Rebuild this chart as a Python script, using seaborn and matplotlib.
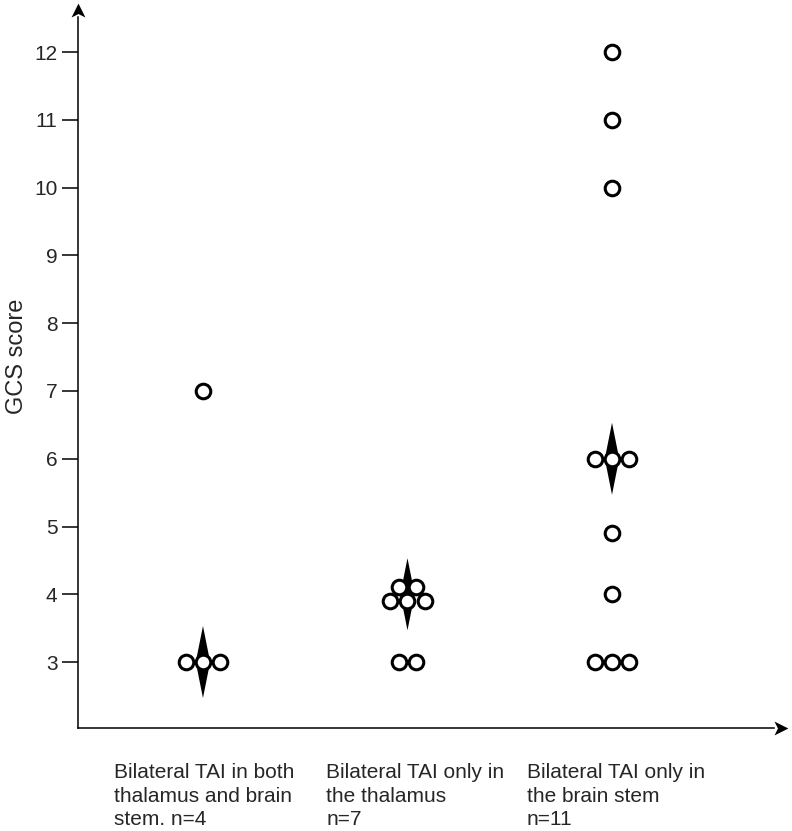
import numpy as np
import pandas as pd
import matplotlib.pyplot as plt
import seaborn as sns
from matplotlib.path import Path

# GCS scores per group
groups = ['Bilateral TAI in both\nthalamus and brain\nstem. n=4',
          'Bilateral TAI only in\nthe thalamus\nn=7',
          'Bilateral TAI only in\nthe brain stem\nn=11']
gcs_both = [3, 3, 3, 7]
gcs_thalamus = [3, 3, 3.9, 3.9, 3.9, 4.1, 4.1]
gcs_brainstem = [3, 3, 3, 4, 4.9, 6, 6, 6, 10, 11, 12]
medians = [3, 4, 6]
yticks = list(range(3, 13))

# layout
step = 0.085                          # gap between circles with the same value
label_shift = [-0.435, -0.396, -0.416]  # left edge of the group captions

rows = []
for i, vals in enumerate([gcs_both, gcs_thalamus, gcs_brainstem]):
    counts = pd.Series(vals).value_counts(sort=False)
    for v, n in counts.items():
        for k in range(n):
            rows.append({'x': i + (k - (n - 1) / 2) * step, 'gcs': v})
df = pd.DataFrame(rows)
med = pd.DataFrame({'x': range(len(medians)), 'gcs': medians})

sns.set_style('white')
plt.rcParams['font.family'] = ['Liberation Sans', 'DejaVu Sans']

fig = plt.figure(figsize=(7.92, 8.31), dpi=100)
ax = fig.add_axes([78 / 792, 103 / 831, 696 / 792, 711 / 831])

diamond = Path([(0, 1), (0.2, 0), (0, -1), (-0.2, 0), (0, 1)],
               [Path.MOVETO, Path.LINETO, Path.LINETO, Path.LINETO, Path.CLOSEPOLY])
sns.scatterplot(data=med, x='x', y='gcs', marker=diamond, s=2690,
                color='black', edgecolor='none', linewidth=0, zorder=2, ax=ax)
sns.scatterplot(data=df, x='x', y='gcs', s=110, color='white',
                edgecolor='black', linewidth=2.2, zorder=3, ax=ax, clip_on=False)

ax.set(xlim=(-0.611, 2.792), ylim=(2.026, 12.52), xlabel='', ylabel='')
ax.set_xticks([])
ax.set_yticks(yticks)
ax.tick_params(axis='y', length=11.7, width=1.1, pad=3, labelsize=15,
               direction='out', left=True, color='black')
for s in ['top', 'right']:
    ax.spines[s].set_visible(False)
for s in ['left', 'bottom']:
    ax.spines[s].set_linewidth(1.1)
    ax.spines[s].set_color('black')

ax.set_ylabel('GCS score', fontsize=17)
ax.yaxis.set_label_coords(-0.072, 0.523)

# arrow heads
arr_x = Path([(0, -0.5), (1, 0), (0, 0.5), (0.25, 0), (0, -0.5)],
             [Path.MOVETO, Path.LINETO, Path.LINETO, Path.LINETO, Path.CLOSEPOLY])
arr_y = Path([(-0.5, 0), (0, 1), (0.5, 0), (0, 0.25), (-0.5, 0)],
             [Path.MOVETO, Path.LINETO, Path.LINETO, Path.LINETO, Path.CLOSEPOLY])
ax.plot([1], [0], marker=arr_x, ms=20, color='black', transform=ax.transAxes,
        clip_on=False, mew=0)
ax.plot([0], [1], marker=arr_y, ms=20, color='black', transform=ax.transAxes,
        clip_on=False, mew=0)

# group captions
tr = ax.get_xaxis_transform()
for i, (lab, sh) in enumerate(zip(groups, label_shift)):
    ax.text(i + sh, -0.049, lab, transform=tr, ha='left', va='top',
            fontsize=15, linespacing=1.32)

fig.savefig('out.png', dpi=100)
